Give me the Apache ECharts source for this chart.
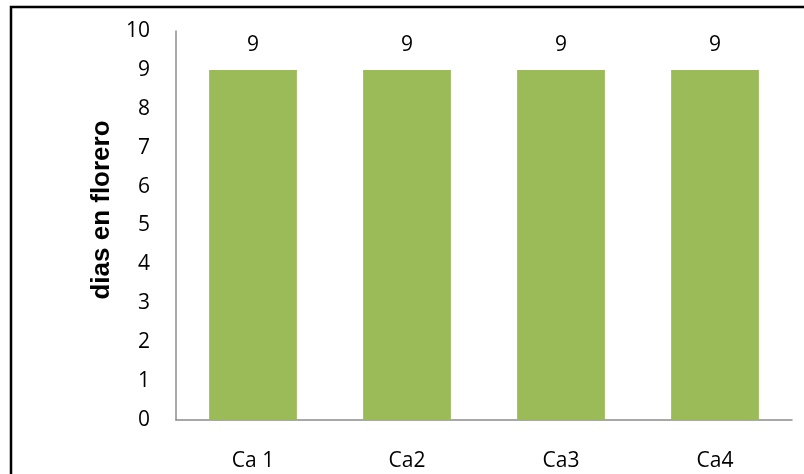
<!DOCTYPE html>
<html>
<head>
<meta charset="utf-8">
<script src="https://cdn.jsdelivr.net/npm/echarts@6/dist/echarts.min.js"></script>
<style>
  html, body { margin: 0; padding: 0; background: #fff; }
  #chart { width: 804px; height: 474px; }
</style>
</head>
<body>
<div id="chart"></div>
<script>
// Vase life per treatment
const categories = ['Ca 1', 'Ca2', 'Ca3', 'Ca4'];
const diasEnFlorero = [9, 9, 9, 9];
const yTicks = [0, 1, 2, 3, 4, 5, 6, 7, 8, 9, 10];
const yTitle = 'dias en florero';

const chart = echarts.init(document.getElementById('chart'), null, { renderer: 'canvas' });
const font = '"Open Sans", "Liberation Sans", sans-serif';

chart.setOption({
  animation: false,
  backgroundColor: '#ffffff',
  graphic: [{
    type: 'rect',
    shape: { x: 11, y: 7, width: 820, height: 500 },
    style: { fill: 'none', stroke: '#000', lineWidth: 2.5 },
    silent: true
  }, {
    type: 'text',
    x: 102,
    y: 210,
    rotation: Math.PI / 2,
    style: {
      text: yTitle,
      fill: '#000',
      font: 'bold 26px "Liberation Sans", Arial, sans-serif',
      textAlign: 'center',
      textVerticalAlign: 'middle',
      verticalAlign: 'middle'
    },
    silent: true
  }],
  grid: { left: 176, top: 31, right: 12, bottom: 54, containLabel: false },
  xAxis: {
    type: 'category',
    data: categories,
    axisLine: { show: true, lineStyle: { color: '#8c8c8c', width: 1.5 } },
    axisTick: { show: false },
    axisLabel: { color: '#000', fontFamily: font, fontSize: 21, margin: 31 },
    splitLine: { show: false }
  },
  yAxis: {
    type: 'value',
    min: yTicks[0],
    max: yTicks[yTicks.length - 1],
    interval: 1,
    axisLine: { show: true, lineStyle: { color: '#8c8c8c', width: 1.5 } },
    axisTick: { show: false },
    axisLabel: { color: '#000', fontFamily: font, fontSize: 21, margin: 26 },
    splitLine: { show: false }
  },
  series: [{
    type: 'bar',
    data: diasEnFlorero,
    barWidth: '57%',
    itemStyle: { color: '#9BBB59' },
    label: {
      show: true,
      position: 'top',
      distance: 14,
      color: '#000',
      fontFamily: font,
      fontSize: 21
    }
  }]
});
</script>
</body>
</html>
